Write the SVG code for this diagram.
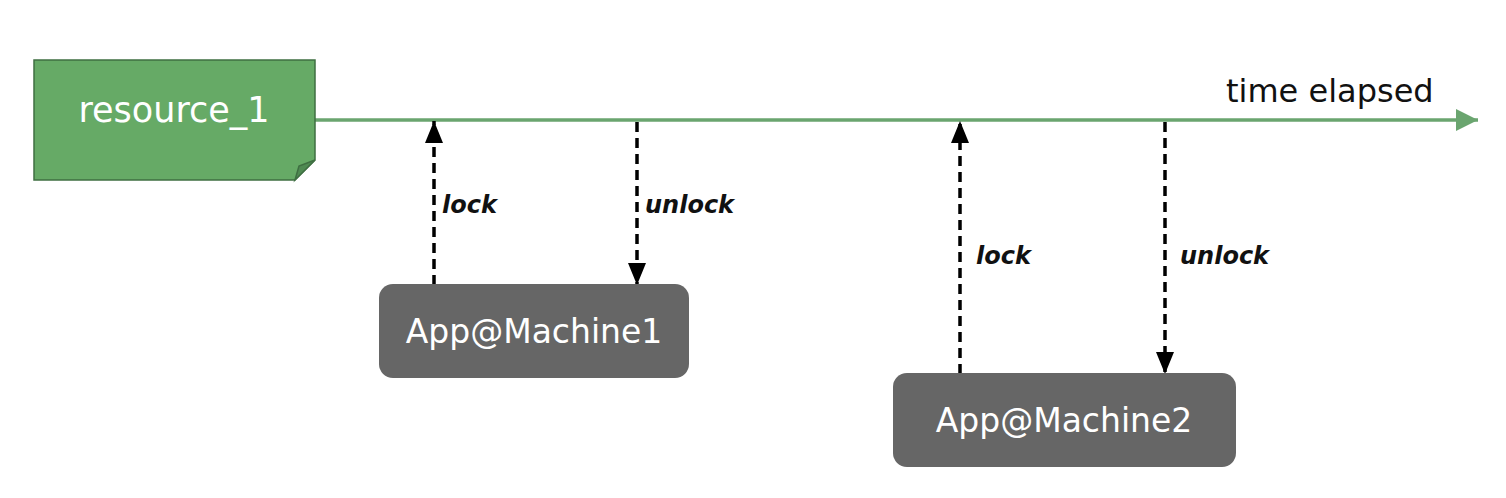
<svg xmlns="http://www.w3.org/2000/svg" width="1506" height="498" viewBox="0 0 1506 498">
<style>
.lbl{font-family:"DejaVu Sans","Liberation Sans",sans-serif;}
.node-text{fill:#ffffff;text-anchor:middle;}
.edge-text{font-size:24px;font-weight:bold;font-style:italic;fill:#111111;}
.dash{stroke:#000000;stroke-width:3.5;stroke-dasharray:10,6;fill:none;}
.app{fill:#666666;}
</style>
<defs>
<marker id="ah" viewBox="0 0 22 18" refX="22" refY="9" markerWidth="22" markerHeight="18" markerUnits="userSpaceOnUse" orient="auto">
<path d="M0,0 L22,9 L0,18 z" fill="#000000"/>
</marker>
<marker id="gh" viewBox="0 0 22 22" refX="22" refY="11" markerWidth="22" markerHeight="22" markerUnits="userSpaceOnUse" orient="auto">
<path d="M0,0 L22,11 L0,22 z" fill="#6aa56f"/>
</marker>
</defs>
<rect width="1506" height="498" fill="#ffffff"/>
<g id="connectors">
<line x1="315" y1="120" x2="1478" y2="120" stroke="#6aa56f" stroke-width="3.5" marker-end="url(#gh)"/>
<line class="dash" x1="434" y1="285" x2="434" y2="121" marker-end="url(#ah)"/>
<line class="dash" x1="637" y1="122" x2="637" y2="285" marker-end="url(#ah)"/>
<line class="dash" x1="960" y1="374" x2="960" y2="121" marker-end="url(#ah)"/>
<line class="dash" x1="1165" y1="122" x2="1165" y2="374" marker-end="url(#ah)"/>
<text class="lbl edge-text" x="442" y="213">lock</text>
<text class="lbl edge-text" x="645" y="213">unlock</text>
<text class="lbl edge-text" x="976" y="264">lock</text>
<text class="lbl edge-text" x="1180" y="264">unlock</text>
</g>
<g id="resource_1">
<path d="M34,60 L315,60 L315,160 L295,180 L34,180 Z" fill="#66aa66" stroke="#3f6f42" stroke-width="1.5"/>
<path d="M295,180 L299,166 L315,160 Z" fill="#4f8a52" stroke="#3f6f42" stroke-width="1.5"/>
<text class="lbl node-text" x="174" y="122" font-size="35">resource_1</text>
</g>
<g id="time_elapsed">
<text class="lbl" x="1226" y="102" font-size="32" fill="#111111">time elapsed</text>
</g>
<g id="machine1">
<rect class="app" x="379" y="284" width="310" height="94" rx="14"/>
<text class="lbl node-text" x="534" y="343" font-size="33">App@Machine1</text>
</g>
<g id="machine2">
<rect class="app" x="893" y="373" width="343" height="94" rx="14"/>
<text class="lbl node-text" x="1064" y="432" font-size="33">App@Machine2</text>
</g>
</svg>
